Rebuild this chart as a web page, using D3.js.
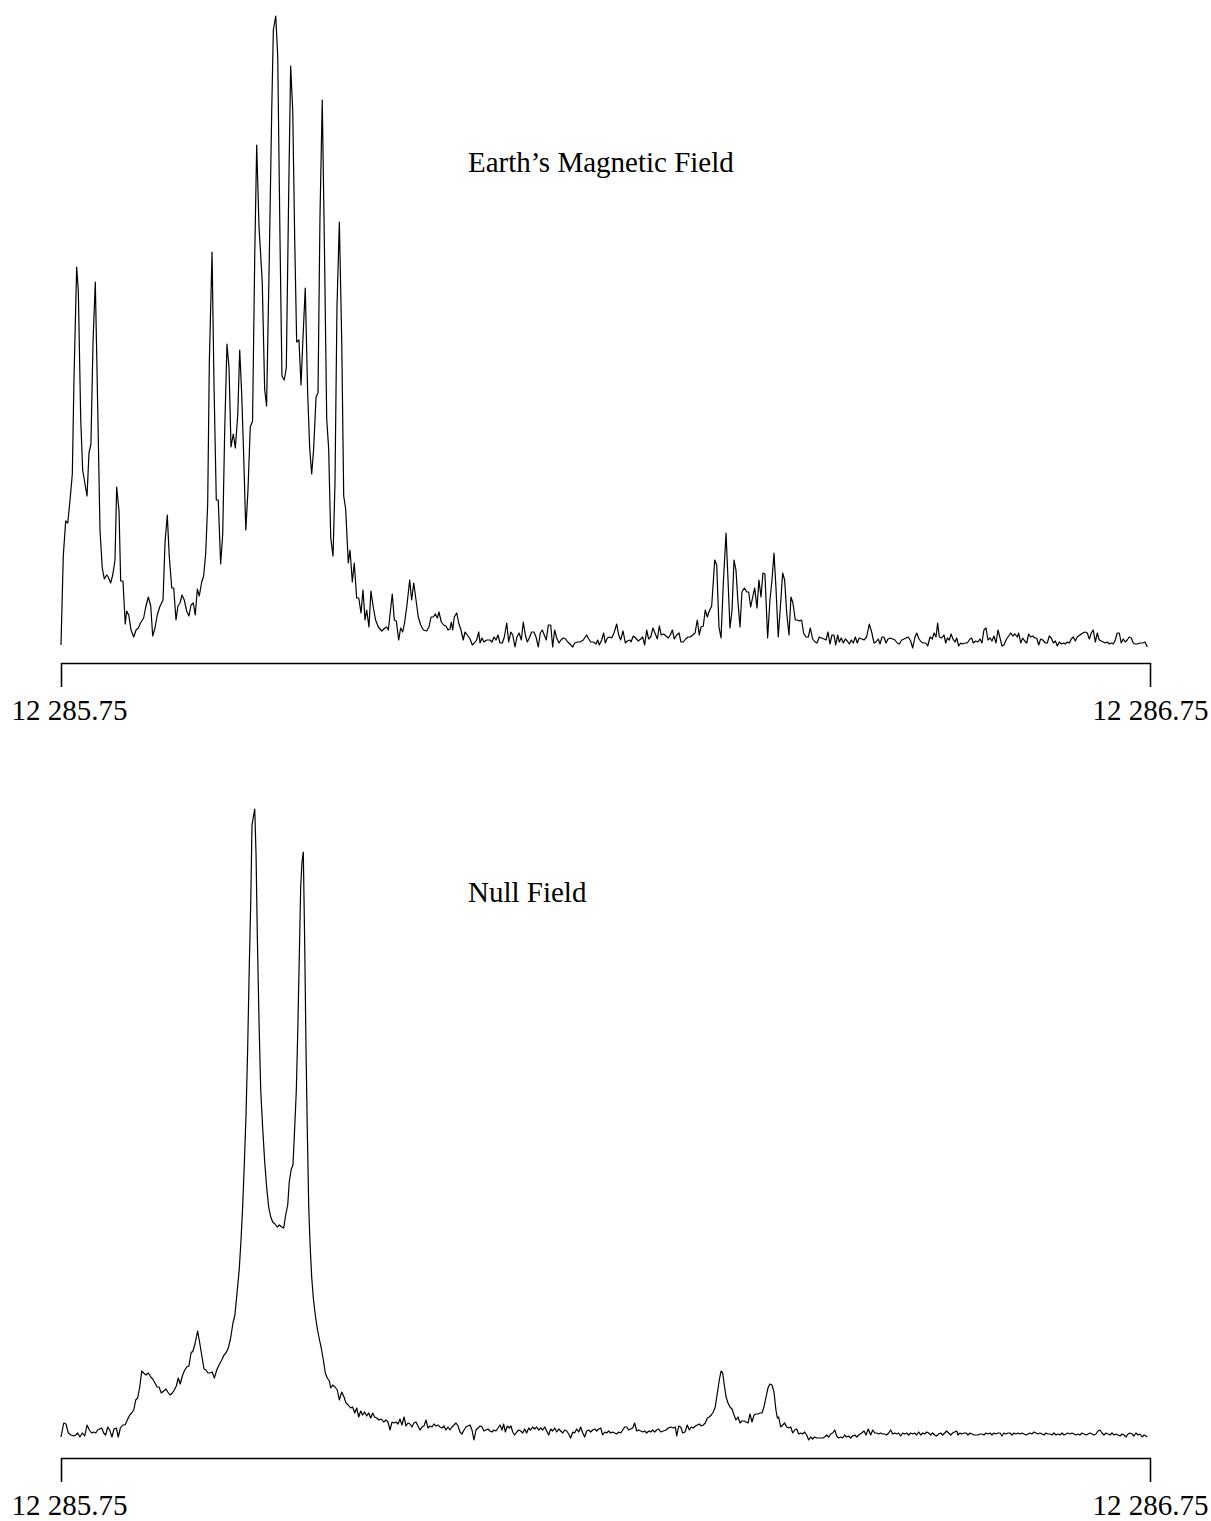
<!DOCTYPE html>
<html>
<head>
<meta charset="utf-8">
<script src="https://d3js.org/d3.v7.min.js"></script>
<style>
  body { margin: 0; background: #fff; }
  svg { display: block; }
</style>
</head>
<body>
<svg id="drawing_region" width="1211" height="1521"></svg>
<script>
// wavenumber axis: offsets in mK (0.001 cm-1) from 12 285.75 cm-1
const startWavenumber = 12285.75;
const spanMilliK = 1000;
const tickOffsets = [0, 1000];
const panelTitles = ["Earth\u2019s Magnetic Field", "Null Field"];

// [offset mK, intensity (arb.)]
const earthField = [[0,5],[2.1,94],[4.3,129],[6.2,127],[8.3,150],[10.4,176],[11.9,270],[14.4,383],[15.9,359],[18.1,231],[19.9,180],[23.9,154],[25.7,197],[27.5,206],[29.4,308],[31.5,368],[33.7,244],[35.8,120],[37.9,82],[39.8,71],[42,75],[43.4,73],[45.6,67],[47.5,75],[49.6,90],[51.1,163],[53.3,139],[54.8,69],[56.9,69],[59,26],[60.3,39],[62.2,35],[64.3,20],[66.8,13],[68.9,20],[71,22],[73.5,28],[75.9,32],[77.8,43],[80.2,53],[82.4,44],[84.2,14],[86.3,22],[88.4,35],[90.6,43],[93.7,50],[95.5,107],[97.6,135],[99.4,94],[101.7,62],[103.5,62],[105.6,30],[107.4,44],[109.3,47],[111.1,55],[113.2,50],[115.4,39],[117.5,34],[119.4,45],[121.5,47],[123.3,35],[125.2,61],[127,54],[129.2,68],[131,74],[132.9,97],[134.7,146],[136.2,287],[138.7,398],[140.5,265],[142.6,150],[144.4,150],[146.6,86],[148.5,116],[150.3,218],[152.4,306],[154.3,282],[156.1,203],[158.2,216],[160.1,202],[162.3,235],[164.1,300],[165.9,257],[167.6,200],[169.7,120],[171.7,160],[173.8,223],[175.9,229],[177.9,394],[179.7,505],[181.8,424],[184.8,368],[187,261],[188.8,244],[191.3,394],[193.5,539],[195,620],[197.2,634],[199,594],[201.1,411],[202.9,274],[205,270],[206.9,282],[209.1,458],[210.9,584],[212.8,539],[214.6,411],[216.4,308],[218.5,310],[220.4,265],[222.2,312],[224.3,362],[226.5,257],[228.4,201],[230.2,176],[232,201],[234.2,253],[236,257],[237.8,432],[239.9,550],[241.8,411],[244,231],[245.8,201],[247.7,112],[249.8,94],[251.6,167],[253.4,342],[255.6,428],[257.8,308],[259.6,154],[261.4,141],[263.8,87],[265.4,100],[267.5,68],[269.3,87],[271.5,52],[273.4,52],[275.5,37],[277.3,60],[279.2,30],[280.7,40],[282.8,23],[284.6,59],[286.7,43],[288.9,30],[291.4,23],[294.5,19],[297.5,22],[299.1,23],[300.6,20],[302.4,38],[304.2,56],[306.1,30],[307.9,29],[310.1,10],[311.9,22],[313.8,18],[315.6,28],[317.7,45],[320.2,70],[322,50],[323.9,67],[326,50],[328.1,33],[330.3,25],[332.7,20],[335.8,19],[337.9,23],[339.8,33],[341.9,33],[343.7,36],[345.6,32],[347.1,38],[349.2,28],[351.4,25],[353.5,24],[355.4,20],[357.2,21],[358.4,28],[359.7,20],[361.1,33],[363.4,37],[365.2,27],[367.3,20],[369.4,10],[371,18],[373.1,15],[375.6,11],[377.7,5],[379.5,7],[381.7,10],[383.6,18],[384.8,7],[386.6,12],[388.4,8],[390.9,10],[393.9,10],[395.8,8],[397.6,13],[399.4,10],[401.3,15],[403.1,7],[405.2,7],[407.1,13],[409.3,27],[411.1,8],[413,18],[414.8,15],[416.9,3],[418.7,13],[420.6,17],[422.7,10],[424.5,28],[426.4,15],[428.2,8],[430,12],[432.2,18],[434.3,18],[436.2,13],[438.3,3],[440.1,17],[442,20],[443.8,15],[445.6,10],[447.5,25],[449.7,25],[451.5,3],[453.3,20],[455.2,12],[457.3,7],[459.1,10],[461.2,12],[463.4,11],[465.3,8],[467.4,6],[469.9,3],[471.7,7],[474.1,8],[476.6,8],[479.6,10],[482.7,15],[484.6,11],[486.4,8],[488.8,8],[491.3,6],[492.8,10],[494.3,5],[496.5,10],[498.3,17],[499.8,7],[501.7,12],[503.5,13],[505.7,12],[507.8,17],[510.3,26],[512.1,15],[513.9,10],[516.1,19],[518.2,7],[520,9],[522.5,10],[523.4,8],[525.5,14],[527.7,12],[530.1,9],[532.3,11],[534.1,13],[536,5],[537.8,20],[539.6,11],[541.5,13],[543.6,22],[545.4,17],[547.6,11],[549.4,24],[551.2,15],[553.4,16],[555.6,14],[557.7,12],[559.5,15],[561.4,20],[563.2,11],[565.4,15],[567.5,17],[569.3,8],[571.4,8],[573.6,11],[575.8,13],[577.9,13],[580.1,15],[582.2,17],[584.3,30],[586.1,15],[587.7,23],[589.8,24],[591.6,40],[593.5,33],[595.3,39],[597.5,44],[600.3,90],[602.1,85],[604.2,23],[606.1,12],[608.2,67],[610.7,117],[612.5,70],[614.3,22],[616.2,40],[618,90],[619.8,80],[621.7,47],[623.5,23],[625.3,58],[627.5,62],[629.7,58],[631.5,58],[633.3,43],[635.2,53],[637,62],[639.1,42],[640.9,70],[642.8,53],[644.6,77],[646.4,76],[648.9,12],[651,50],[652.9,70],[654.7,97],[656.5,63],[658.6,13],[660.5,42],[662.7,77],[664.5,70],[666.4,37],[668.5,15],[670.3,53],[672.1,47],[674.3,30],[676.1,30],[677.9,29],[680.1,30],[681.9,17],[684.1,13],[686.2,13],[688.1,22],[690.2,11],[692.4,8],[694.2,7],[696.3,13],[698.5,12],[700.6,11],[702.5,10],[704.3,18],[706.1,6],[708,15],[709.8,15],[711.4,5],[713.2,15],[714.7,8],[716.5,12],[718.4,7],[720.2,11],[722,9],[723.9,6],[725.7,10],[727.5,7],[729.4,13],[731.2,7],[733,12],[735.5,11],[737.4,10],[739.8,13],[742.2,26],[744.4,18],[746.6,7],[748.4,8],[750.5,11],[752.1,6],[753.9,13],[755.7,13],[757.6,7],[759.4,11],[761.2,12],[763.7,11],[765.8,10],[767.9,7],[769.8,6],[772,10],[774.1,11],[775.9,12],[778,13],[780.2,9],[782.1,2],[784.2,13],[785.8,17],[787.9,11],[790,8],[791.8,7],[794,7],[795.9,4],[798,13],[800.1,11],[801.7,17],[803.5,13],[805,27],[806.5,13],[808.7,12],[810.8,15],[812.4,7],[813.9,12],[815.7,10],[817.3,16],[819.1,11],[820.9,8],[822.5,12],[824.3,4],[826.2,7],[828,6],[830.1,7],[832.2,7],[834.7,11],[836.3,12],[837.7,7],[839.9,9],[842,8],[843.9,11],[845.7,7],[847.5,20],[849.4,22],[851.2,10],[853.1,12],[854.9,9],[856.7,14],[858.6,7],[860.4,20],[862.3,12],[864.1,4],[865.9,5],[867.8,10],[870.2,14],[872.1,17],[873.9,14],[876,16],[878.2,13],[879.4,17],[881.3,7],[883.1,12],[884.9,9],[886.8,7],[888.6,16],[890.4,13],[892.3,14],[894.1,12],[895.9,12],[897.8,5],[899.6,11],[901.5,10],[903.9,7],[905.7,7],[907.5,14],[909.4,12],[911.2,7],[913.1,9],[914.9,4],[916.7,8],[918.6,6],[920.4,7],[922.2,6],[924.1,8],[925.9,7],[927.7,11],[929.6,13],[931.4,9],[933.2,13],[935.7,15],[938.2,17],[940.3,18],[942.4,17],[944.3,11],[946.1,17],[947.9,20],[949.8,8],[951.6,17],[953.4,10],[955.3,9],[957.1,8],[958.9,7],[960.8,8],[962.6,6],[964.4,7],[966.3,6],[968.1,10],[969.9,17],[971.8,17],[973.6,7],[975.4,11],[977.3,8],[979.1,10],[980.9,13],[982.8,12],[984.6,7],[986.4,6],[988.3,6],[990.8,7],[993.3,7],[995.4,8],[997.5,3]];

const nullField = [[0,8],[2.5,22],[4.6,21],[6.7,12],[9.2,10],[11.7,9],[13.5,10],[15.3,12],[17.4,8],[19.6,12],[21.8,9],[23.9,20],[26,15],[28.2,12],[30,13],[31.9,12],[33.7,15],[35.5,16],[37.4,17],[39.2,12],[41,10],[42.9,18],[44.7,15],[46.8,8],[48.7,16],[50.8,17],[52.6,8],[54.5,17],[56.7,20],[58.8,20],[60.9,25],[63.1,30],[64.9,32],[66.8,35],[68.6,45],[70.4,47],[72.3,58],[74.1,74],[75.9,72],[78.1,70],[80.2,72],[82.4,68],[84.2,66],[86.3,62],[88.2,58],[90,58],[92.1,52],[94.3,54],[96.4,56],[98,53],[100.1,50],[102.2,52],[104,55],[105.9,59],[107.7,67],[109.5,61],[111.4,69],[113.2,74],[115.4,78],[117.5,79],[119.4,92],[121.2,94],[123,101],[125.5,114],[127.4,102],[129.5,88],[131.3,76],[133.1,75],[135,72],[136.8,72],[138.9,73],[140.8,67],[143,75],[145.1,80],[147.6,85],[149.7,90],[151.5,92],[153.6,97],[155.8,107],[157.9,122],[159.7,130],[161.9,155],[163.7,176],[165.3,205],[166.8,238],[168.3,280],[169.9,330],[171.4,396],[172.9,479],[174.2,541],[175.4,620],[176.6,628],[177.9,636],[179.1,591],[180.3,508],[181.8,425],[183.4,355],[185.2,317],[187,284],[188.9,257],[190.7,238],[192.6,228],[194.4,223],[196.5,221],[198.6,218],[200.5,220],[202.7,218],[204.5,217],[206.3,230],[208.2,240],[209.6,263],[211.5,276],[213,280],[214.6,317],[216.1,355],[217.4,413],[218.8,487],[220.1,558],[221.3,583],[222.5,593],[223.8,500],[225,396],[226.2,313],[227.5,238],[228.7,201],[230.2,168],[231.7,147],[233.5,130],[235.4,116],[237.2,106],[239,97],[240.9,85],[242.7,72],[244.5,67],[246.4,64],[247.7,57],[249.5,60],[251.6,58],[253.7,55],[255.6,45],[257.8,53],[259.9,48],[261.7,42],[263.8,40],[266,37],[267.8,38],[269.7,32],[271.5,37],[273.4,28],[275.2,34],[277,30],[278.8,33],[280.7,29],[282.5,32],[284.4,27],[286.2,32],[288,28],[289.9,27],[292,25],[294.1,26],[296.3,23],[298.4,25],[300.3,23],[302.1,15],[304,23],[305.8,22],[307.6,23],[309.5,21],[311.3,26],[313.1,20],[315,28],[316.8,19],[318.6,22],[320.5,21],[322.3,18],[324.1,22],[326,23],[327.8,19],[329.7,15],[331.5,18],[333.3,19],[335.2,25],[337,17],[338.8,19],[340.7,18],[342.5,21],[344.3,19],[346.2,20],[348,18],[349.9,17],[351.7,19],[353.5,15],[355.4,18],[357.2,15],[359,18],[360.9,20],[362.7,22],[364.6,19],[366.4,13],[368.2,11],[370.1,15],[371.9,18],[373.7,19],[375.6,20],[377.4,15],[379.2,5],[381.1,15],[382.9,17],[384.8,19],[386.6,18],[388.4,14],[390.3,15],[392.1,16],[393.9,14],[395.8,13],[397.6,15],[399.4,14],[401.3,17],[403.1,20],[405,15],[406.5,21],[408,13],[409.8,19],[411.7,17],[413.2,19],[414.8,13],[416.6,10],[418.5,13],[420.3,15],[422.1,14],[424,12],[425.8,16],[427.6,12],[429.5,17],[431.3,15],[433.1,18],[435,16],[436.8,18],[438.6,15],[440.5,17],[442.3,15],[444.2,18],[446,14],[447.8,10],[449.7,16],[451.5,14],[453.3,17],[455.2,13],[457,16],[458.9,14],[460.7,12],[462.5,15],[464.4,14],[466.2,11],[468,7],[469.9,13],[471.7,12],[473.5,16],[475.4,13],[477.2,18],[479.1,12],[480.9,8],[482.7,14],[484.6,15],[486.4,13],[488.2,15],[490.1,16],[491.9,14],[493.8,16],[495.6,17],[497.4,10],[499.3,13],[501.1,12],[502.9,14],[504.8,12],[506.6,13],[508.4,12],[510.3,11],[512.1,13],[514,12],[515.8,15],[517.6,18],[519.5,18],[521.3,15],[523.1,16],[525,17],[526.8,22],[528.6,14],[530.5,15],[532.3,14],[534.2,13],[536,14],[537.8,12],[539.7,14],[541.5,13],[543.3,15],[545.2,13],[547,15],[548.8,16],[550.7,13],[553.1,14],[555.6,15],[557.7,17],[559.9,18],[562.3,17],[564.1,18],[565.4,9],[567.2,19],[569.1,18],[570.9,12],[573,13],[575.1,20],[577,15],[578.8,18],[580.6,17],[582.5,19],[584.3,20],[586.1,21],[588,19],[589.8,20],[591.6,22],[593.5,27],[595.3,28],[597.2,30],[599,33],[600.8,38],[602.7,52],[604.5,65],[606.1,74],[607.6,72],[609.1,60],[610.7,48],[612.5,42],[614.3,38],[616.2,36],[618,30],[619.8,25],[621.7,28],[623.5,22],[625.3,24],[627.2,24],[629,23],[630.9,22],[632.7,31],[634.5,23],[636.4,30],[638.2,31],[640,31],[641.9,32],[643.7,32],[645.5,38],[647.4,48],[649.2,57],[651,61],[652.9,60],[654.7,53],[656.5,35],[657.8,27],[659,28],[660.9,18],[662.7,20],[664.5,22],[666.4,18],[668.2,17],[670.1,18],[671.9,12],[673.7,15],[675.6,16],[677.4,11],[679.2,12],[681.1,11],[682.9,13],[684.7,10],[686.6,5],[688.4,8],[690.2,6],[692.1,8],[693.9,7],[695.8,7],[697.6,7],[699.4,7],[701.3,8],[703.1,10],[704.9,8],[706.8,11],[708.6,12],[710.5,15],[712.3,9],[714.1,7],[716,8],[717.8,7],[719.6,10],[721.5,8],[723.3,9],[725.1,7],[727,9],[728.8,10],[730.7,8],[732.5,10],[735.3,12],[737.4,14],[739.2,10],[741.3,16],[743.5,10],[745.4,15],[747.2,12],[749,12],[750.9,11],[752.7,12],[754.5,11],[756.4,11],[758.2,10],[760,12],[761.9,15],[763.7,11],[765.5,12],[767.4,11],[769.2,12],[771,9],[772.9,12],[774.7,11],[776.6,12],[778.4,10],[780.2,12],[782.1,11],[783.9,12],[785.7,10],[787.6,13],[789.4,10],[791.2,12],[793.1,11],[794.9,13],[796.8,12],[798.6,10],[800.4,12],[802.3,10],[804.1,9],[805.9,11],[807.8,12],[809.6,10],[811.5,12],[813.3,14],[815.1,12],[817,10],[818.8,12],[820.6,13],[822.5,14],[823.7,10],[825.5,12],[827.3,11],[829.2,12],[831,12],[832.9,10],[834.7,12],[836.5,11],[838.4,10],[840.2,10],[842,10],[843.9,11],[845.7,11],[847.5,10],[849.4,12],[851.2,11],[853.1,12],[854.9,10],[856.7,12],[858.6,11],[860.4,12],[862.3,12],[864.1,9],[865.9,12],[867.8,11],[869.6,12],[871.4,12],[873.3,10],[875.1,12],[876.9,11],[878.8,12],[880.6,11],[882.5,12],[884.3,11],[886.1,10],[888,11],[889.8,12],[891.6,11],[893.5,13],[895.3,12],[897.2,11],[899,12],[900.8,11],[902.7,10],[904.5,12],[906.3,11],[908.2,11],[910,10],[911.8,12],[913.7,10],[915.5,11],[917.4,10],[919.2,12],[921,10],[922.9,11],[924.7,12],[926.5,11],[928.4,12],[930.2,11],[932,10],[933.9,11],[935.7,10],[937.6,12],[939.4,11],[941.2,10],[943.1,11],[944.9,12],[946.7,11],[948.6,10],[950.4,11],[952.2,14],[954.1,15],[955.9,12],[957.8,10],[959.6,12],[961.4,11],[963.3,10],[965.1,12],[966.9,10],[968.8,11],[970.6,10],[972.5,9],[974.3,11],[976.1,10],[978,8],[979.8,11],[981.6,12],[983.5,11],[985.3,9],[987.1,12],[989,10],[990.8,11],[992.7,8],[994.5,10],[996.3,9],[997.5,8]];

var svg = d3.select('#drawing_region');
const serif = "'Liberation Serif', 'Times New Roman', Times, serif";

const xscale = d3.scaleLinear()
    .domain([0, spanMilliK])
    .range([61, 1150]);

// "12 285.75" style labels
const locale = d3.formatLocale({ decimal: ".", thousands: " ", grouping: [3], currency: ["", ""] });
const fmt = locale.format(",.2f");

const panels = [
    { data: earthField, title: panelTitles[0], base: 650, axisY: 663, titleY: 172 },
    { data: nullField, title: panelTitles[1], base: 1445, axisY: 1458, titleY: 902 }
];

panels.forEach(p => {
    const yscale = d3.scaleLinear()
        .domain([0, 640])
        .range([p.base, p.base - 640]);

    const line = d3.line()
        .x(d => xscale(d[0]))
        .y(d => yscale(d[1]));

    svg.append('path')
        .datum(p.data)
        .attr('d', line)
        .attr('fill', 'none')
        .attr('stroke', '#000')
        .attr('stroke-width', 1.2)
        .attr('stroke-linejoin', 'round');

    const xaxis = d3.axisBottom(xscale)
        .tickValues(tickOffsets)
        .tickFormat(d => fmt(startWavenumber + d / 1000))
        .tickSize(24)
        .tickPadding(12);

    const g = svg.append('g')
        .attr('transform', `translate(0, ${p.axisY})`)
        .call(xaxis);
    g.selectAll('path, line').attr('stroke', '#000').attr('stroke-width', 1.3);
    g.selectAll('text')
        .attr('fill', '#000')
        .attr('font-family', serif)
        .attr('font-size', 29);
    // left label sits a little inside the page edge
    g.selectAll('.tick text').filter(d => d === tickOffsets[0]).attr('dx', 8);

    svg.append('text')
        .attr('x', 468)
        .attr('y', p.titleY)
        .attr('font-family', serif)
        .attr('font-size', 29)
        .text(p.title);
});
</script>
</body>
</html>
